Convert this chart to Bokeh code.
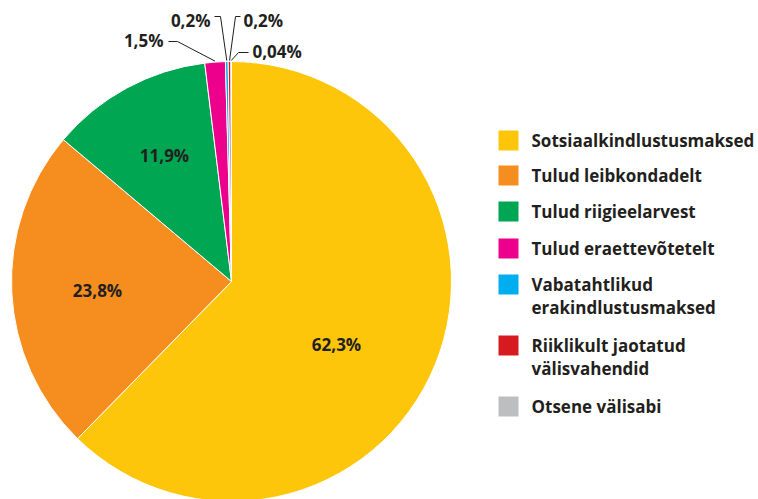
import numpy as np
from bokeh.plotting import figure
from bokeh.models import Range1d
from bokeh.core.properties import value
from bokeh.embed import file_html
from bokeh.resources import INLINE

# ---- data ----
categories = ["Sotsiaalkindlustusmaksed", "Tulud leibkondadelt", "Tulud riigieelarvest",
              "Tulud eraettevõtetelt", "Vabatahtlikud\nerakindlustusmaksed",
              "Riiklikult jaotatud\nvälisvahendid", "Otsene välisabi"]
shares = [62.3, 23.8, 11.9, 1.5, 0.2, 0.2, 0.04]
share_labels = ["62,3%", "23,8%", "11,9%", "1,5%", "0,2%", "0,2%", "0,04%"]
colors = ["#FEC60B", "#F68D1F", "#00A651", "#EC008C", "#00AEEF", "#D71920", "#BCBEC0"]

FONT = value("Open Sans")
TXT = "#231F20"
FW, FH = 758, 499


def Y(py):
    return FH - py


p = figure(width=FW, height=FH, output_backend="svg", toolbar_location=None,
           x_range=Range1d(0, FW), y_range=Range1d(0, FH), min_border=0,
           x_axis_location=None, y_axis_location=None)
p.grid.visible = False
p.outline_line_color = None
p.background_fill_color = "white"

# ---- pie ----
cx, cy, R = 231, 281, 220
vals = np.array(shares, dtype=float)
frac = vals / vals.sum()
cum = np.concatenate([[0], np.cumsum(frac)])
start = np.pi / 2 - 2 * np.pi * cum[:-1]
end = np.pi / 2 - 2 * np.pi * cum[1:]
p.wedge(x=cx, y=Y(cy), radius=R, start_angle=start, end_angle=end, direction="clock",
        fill_color=colors, line_color="white", line_width=1)

# inside labels (big slices)
in_pos = [(336, 344), (97, 290), (164, 155)]
for i, (lx, ly) in enumerate(in_pos):
    p.text(x=[lx], y=[Y(ly)], text=[share_labels[i]], text_font=FONT, text_font_style="bold",
           text_font_size="17px", text_color=TXT, text_align="center", text_baseline="middle")

# callout labels (small slices)
mid = (cum[:-1] + cum[1:]) / 2
callouts = {3: ((163, 40), (168, 41), (177, 41), "right"),
            4: ((210, 20), (214, 16), (220, 16), "right"),
            5: ((243, 20), (240, 16), (235, 16), "left"),
            6: ((252, 51), (248, 52), (238, 52), "left")}
for i, ((tx, ty), (ax, ay), (bx, by), al) in callouts.items():
    ang = 2 * np.pi * mid[i]
    ex = cx + (R + 1) * np.sin(ang)
    ey = cy - (R + 1) * np.cos(ang)
    p.line(x=[ax, bx, ex], y=[Y(ay), Y(by), Y(ey)], line_color=TXT, line_width=1)
    p.text(x=[tx], y=[Y(ty)], text=[share_labels[i]], text_font=FONT, text_font_style="bold",
           text_font_size="17px", text_color=TXT, text_align=al, text_baseline="middle")

# ---- legend ----
leg_x, sq = 508, 20
row_y = [140, 175, 211, 248, 284, 345, 406]
for i, cat in enumerate(categories):
    p.rect(x=[leg_x], y=[Y(row_y[i])], width=sq, height=sq, fill_color=colors[i], line_color=None)
    for k, line in enumerate(cat.split("\n")):
        p.text(x=[531], y=[Y(row_y[i] + 23 * k)], text=[line], text_font=FONT,
               text_font_style="bold", text_font_size="17px", text_color=TXT,
               text_align="left", text_baseline="middle")

open("out.html", "w").write(file_html(p, INLINE))
